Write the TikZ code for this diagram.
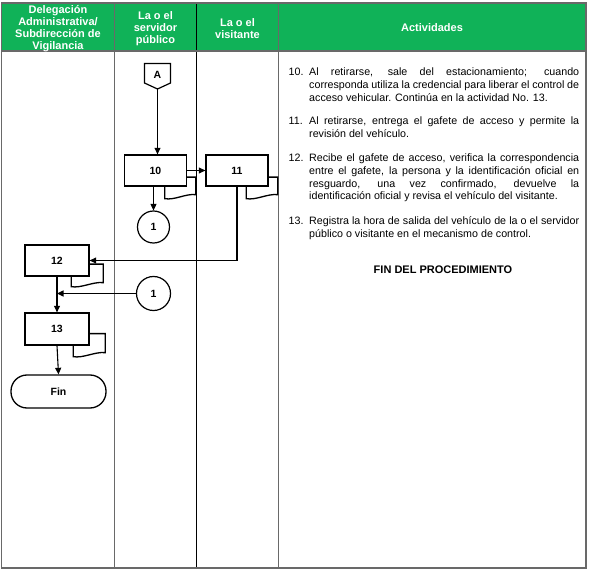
\documentclass[tikz,border=0pt]{standalone}
\usepackage{fontspec}
\setmainfont{Liberation Sans}
\usetikzlibrary{arrows.meta,calc}
\definecolor{hdrgreen}{RGB}{16,178,88}
\definecolor{gridgray}{RGB}{105,105,105}
\newcommand\jline[1]{\makebox[270pt][s]{#1}}
\newcommand\doctab[5]{% node, ext, up, left, drop
  \draw[tabline] ($(#1.south east)+(0,-#3)$) -- ++(#2,0) -- ++(0,#3+#5)
    .. controls +(-10,-1.2) and +(10,1.8) .. ($(#1.south east)+(-#4,#5+4)$)
    -- ($(#1.south east)+(-#4,0)$);}
\begin{document}
\begin{tikzpicture}[x=1pt,y=-1pt,
  proc/.style={draw, line width=1.3pt, minimum width=62pt, minimum height=31pt,
    inner sep=0pt, font=\bfseries\fontsize{10.5}{12}\selectfont},
  conn/.style={draw, circle, line width=1.2pt, minimum size=32pt, inner sep=0pt,
    font=\bfseries\fontsize{10.5}{12}\selectfont},
  flow/.style={line width=1.1pt, -{Triangle[length=6.5pt,width=6pt]}},
  tabline/.style={line width=1.3pt},
  hdr/.style={text=white, font=\bfseries\fontsize{11}{12.2}\selectfont,
    align=center, inner sep=0pt},
  act/.style={anchor=base west, inner sep=0pt, font=\fontsize{10.7}{12.8}\selectfont},
]
\useasboundingbox (0,0) rectangle (590,572);
\fill[white] (0,0) rectangle (590,572);
% header
\fill[hdrgreen] (1.5,3) rectangle (586,51);
\draw[gridgray, line width=1pt] (114.5,3) -- (114.5,568);
\draw[gridgray, line width=1pt] (278.5,3) -- (278.5,568);
\draw[black, line width=1pt] (196.5,3) -- (196.5,568);
\draw[gridgray, line width=1.2pt] (1.5,3) rectangle (586,568);
\draw[gridgray, line width=1.6pt] (1.5,51) -- (586,51);
\node[hdr] (h1) at (58,28.6) {Delegación\\Administrativa/\\Subdirección de\\Vigilancia};
\node[hdr] (h2) at (155.5,28.5) {La o el\\servidor\\público};
\node[hdr] (h3) at (237.5,28.3) {La o el\\visitante};
\node[hdr] (h4) at (432,27.2) {Actividades};
% off-page connector
\draw[line width=1.2pt] (144.5,63.5) -- (170.5,63.5) -- (170.5,83) -- (157.5,89) -- (144.5,83) -- cycle;
\node[inner sep=0pt, font=\bfseries\fontsize{10.5}{12}\selectfont] (A) at (157.5,74.5) {A};
\coordinate (Atip) at (157.5,89);
% process boxes
\node[proc] (n10) at (155.5,170.5) {10};
\node[proc] (n11) at (237,170.5) {11};
\node[proc, minimum width=64pt] (n12) at (57,260.5) {12};
\node[proc, minimum width=64pt, minimum height=32pt] (n13) at (57,329) {13};
\node[draw, line width=1.3pt, rounded corners=16pt, minimum width=95pt, minimum height=33pt,
  inner sep=0pt, font=\bfseries\fontsize{10.5}{12}\selectfont] (fin) at (58.5,391.5) {Fin};
\node[conn] (c1) at (153.5,227) {1};
\node[conn, minimum size=34pt] (c2) at (153.5,293.5) {1};
% document tabs
\doctab{n10}{8.5}{9.5}{22.5}{8}
\doctab{n11}{9}{9.5}{22.5}{8}
\doctab{n12}{13.5}{12.5}{18.5}{6}
\doctab{n13}{15.5}{12}{16.5}{7}
% connectors
\draw[flow] (Atip) -- (Atip |- n10.north);
\draw[flow] (n10.east) -- (n11.west);
\draw[flow] (n10.south -| c1) -- (c1.north);
\draw[flow] (n11.south) |- (n12.east);
\draw[flow] (n12.south) -- (n13.north);
\draw[flow] (c2.west) -- (c2.west -| n12.south);
\draw[flow] (n13.south) -- (fin.north);
% activities text
\node[act] (t10) at (288.5,76) {\makebox[20.5pt][l]{10.}\parbox[t]{270pt}{%
  \jline{Al retirarse, sale del estacionamiento; cuando}\\
  \jline{corresponda utiliza la credencial para liberar el control de}\\
  acceso vehicular. Continúa en la actividad No. 13.}};
\node[act] (t11) at (288.5,125) {\makebox[20.5pt][l]{11.}\parbox[t]{270pt}{%
  \jline{Al retirarse, entrega el gafete de acceso y permite la}\\
  revisión del vehículo.}};
\node[act] (t12) at (288.5,161.5) {\makebox[20.5pt][l]{12.}\parbox[t]{270pt}{%
  \jline{Recibe el gafete de acceso, verifica la correspondencia}\\
  \jline{entre el gafete, la persona y la identificación oficial en}\\
  \jline{resguardo, una vez confirmado, devuelve la}\\
  identificación oficial y revisa el vehículo del visitante.}};
\node[act] (t13) at (288.5,224.5) {\makebox[20.5pt][l]{13.}\parbox[t]{270pt}{%
  \jline{Registra la hora de salida del vehículo de la o el servidor}\\
  público o visitante en el mecanismo de control.}};
\node[anchor=base, inner sep=0pt, font=\bfseries\fontsize{11}{12.8}\selectfont] (fp) at (443,273.5) {FIN DEL PROCEDIMIENTO};
\end{tikzpicture}
\end{document}
